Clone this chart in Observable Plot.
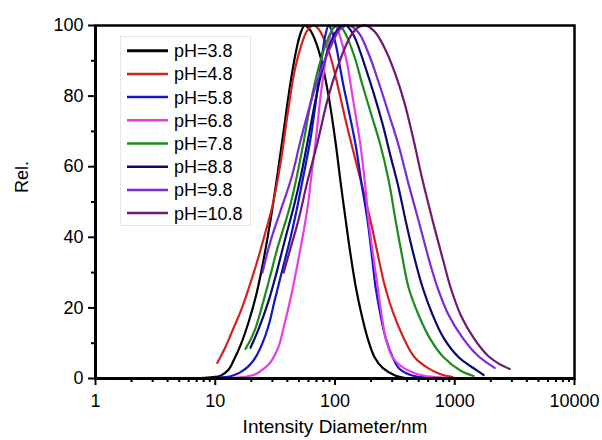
<!DOCTYPE html>
<html>
<head>
<meta charset="utf-8">
<script src="https://cdn.jsdelivr.net/npm/d3@7"></script>
<script src="https://cdn.jsdelivr.net/npm/@observablehq/plot@0.6"></script>
<style>
  body { margin: 0; background: #fff; font-family: "Liberation Sans", Arial, sans-serif; }
  #wrap { position: relative; width: 602px; height: 440px; background: #fff; }
  #legend { position: absolute; left: 0; top: 0; pointer-events: none; }
</style>
</head>
<body>
<div id="wrap"></div>
<script>
// ---- series names and colours ----
const seriesNames = ["pH=3.8", "pH=4.8", "pH=5.8", "pH=6.8", "pH=7.8", "pH=8.8", "pH=9.8", "pH=10.8"];
const seriesColors = ["#000000", "#d42020", "#1414c8", "#e63ce6", "#1c8a1c", "#0a0a6e", "#7a2ad8", "#6e1a6e"];

// ---- data: size (nm) and relative intensity ----
const size38 = [7.54, 9.49, 11.1, 12.9, 14.2, 16.3, 19.0, 22.1, 24.8, 29.0, 32.5, 36.5, 42.6, 47.8, 51.6, 55.7, 60.1, 65.0, 75.8, 88.4, 101, 111, 123, 135, 149, 167, 187, 214, 250, 321, 428];
const rel38  = [0.1, 0.4, 0.8, 2.5, 5, 9.5, 16, 24, 32, 45, 56, 68, 84, 93.5, 97.8, 100, 99.3, 97.5, 91, 80, 67, 56, 44.7, 35, 26, 18, 11.5, 6, 3, 0.8, 0];

const size48 = [10.4, 12.2, 13.9, 16.3, 19.0, 22.1, 25.8, 30.1, 35.1, 40.2, 45.9, 53.6, 59.0, 66.2, 72.9, 78.8, 91.9, 107, 123, 143, 170, 198, 240, 255, 303, 374, 462, 594, 762, 960];
const rel48  = [4.4, 9, 13.5, 19, 25.5, 32.5, 40.5, 49, 61, 75, 87, 95.5, 98.7, 100, 99, 97, 91, 82, 73, 64, 54, 44.7, 31.5, 27.5, 19, 11.5, 6, 3, 1.2, 0.4];

const size58 = [10.4, 12.2, 13.9, 16.3, 19.0, 21.7, 24.8, 27.9, 31.3, 36.5, 42.6, 48.7, 55.7, 62.5, 70.2, 78.8, 83.4, 88.4, 94.0, 101, 116, 130, 149, 167, 187, 206, 218, 240, 265, 303, 340, 428, 571];
const rel58  = [0.2, 0.4, 0.8, 1.8, 3.5, 6, 10, 15, 22, 31, 40, 49, 59, 68, 80, 92.5, 97.5, 100, 98.6, 95, 84, 76, 66, 55, 44.7, 33, 26, 18, 11.5, 6, 3, 1, 0.3];

const size68 = [14.2, 17.9, 21.7, 24.8, 27.9, 30.1, 33.8, 37.2, 43.4, 48.7, 53.6, 59.0, 63.8, 68.9, 75.8, 85.1, 91.9, 99, 105, 111, 125, 140, 154, 164, 177, 191, 206, 227, 245, 265, 303, 374, 519, 762, 1018];
const rel68  = [0.2, 0.5, 1.2, 2.5, 4, 5.5, 9, 14.3, 24, 32.5, 40, 48.4, 58, 67, 80, 92, 97.5, 100, 99, 96.5, 90, 80, 71.5, 65.5, 56, 44.7, 36, 26, 18, 11.5, 6, 3, 1, 0.3, 0];

const size78 = [17.9, 19.7, 21.7, 25.3, 29.0, 33.1, 41.8, 47.8, 54.7, 62.5, 72.9, 86.7, 97.3, 107, 116, 125, 146, 170, 198, 240, 281, 321, 360, 412, 499, 629, 807, 1120, 1438];
const rel78  = [8.4, 11, 14.3, 22, 29.5, 37, 48.4, 57, 67, 78, 88, 96, 99.3, 100, 99, 97, 91, 83, 75.5, 66, 56, 44.7, 35.5, 25.7, 18, 11, 6, 2.2, 0.7];

const size88 = [19.7, 23.0, 27.9, 32.5, 38.7, 45.9, 51.6, 59.0, 68.9, 80.3, 97.3, 110, 123, 135, 149, 180, 214, 250, 291, 340, 389, 454, 540, 654, 807, 1079, 1496, 1743];
const rel88  = [8.7, 14, 22, 30, 40, 49.5, 57, 67, 79, 89, 97, 99.5, 100, 98.7, 96, 88, 80, 72, 63, 54, 44.7, 35, 25.7, 18, 11.5, 6, 2.5, 1];

const size98 = [24.8, 29.0, 35.1, 43.4, 51.6, 62.5, 75.8, 91.9, 111, 130, 157, 191, 231, 281, 340, 412, 499, 629, 719, 889, 1164, 1553, 2155];
const rel98  = [30, 39, 47.5, 57, 67.4, 78, 87, 94, 99, 100, 98, 92, 84, 75, 66, 55, 44.7, 32, 25.7, 18, 11.5, 6.5, 3];

const size108 = [37.2, 42.6, 49.6, 59.0, 71.6, 86.7, 107, 135, 157, 180, 198, 218, 265, 321, 381, 454, 540, 654, 807, 925, 1120, 1438, 1884, 2328, 2877];
const rel108  = [30, 37, 45, 56, 67, 79, 89, 97, 99.5, 100, 99.3, 98, 93, 86, 78, 67.4, 56, 44.7, 33, 25.7, 18, 11.5, 6.5, 4.2, 2.7];

// ---- axis ticks ----
const xMajorTicks = [1, 10, 100, 1000, 10000];
const xMinorMultipliers = [2, 3, 4, 5, 6, 7, 8, 9];
const yMajorTicks = [0, 20, 40, 60, 80, 100];
const yMinorTicks = [10, 30, 50, 70, 90];

const xLabel = "Intensity Diameter/nm";
const yLabel = "Rel.";

// ---- build table ----
const sizes = [size38, size48, size58, size68, size78, size88, size98, size108];
const rels  = [rel38, rel48, rel58, rel68, rel78, rel88, rel98, rel108];
const rows = [];
seriesNames.forEach((name, i) => {
  sizes[i].forEach((s, j) => rows.push({series: name, size: s, rel: rels[i][j]}));
});
const xMinorTicks = [];
xMajorTicks.slice(0, -1).forEach(d => xMinorMultipliers.forEach(m => xMinorTicks.push(d * m)));

const font = "'Liberation Sans', Arial, sans-serif";

const chart = Plot.plot({
  width: 602,
  height: 440,
  marginLeft: 95,
  marginRight: 28,
  marginTop: 25,
  marginBottom: 62,
  style: {fontFamily: font, fontSize: "18px", color: "#000", background: "#fff", overflow: "visible"},
  x: {type: "log", domain: [1, 10000]},
  y: {domain: [0, 100]},
  color: {domain: seriesNames, range: seriesColors},
  marks: [
    Plot.line(rows, {x: "size", y: "rel", z: "series", stroke: "series", strokeWidth: 2.2, curve: "catmull-rom"}),
    Plot.axisX({ticks: xMinorTicks, tickSize: 4, strokeWidth: 2, text: null, label: null}),
    Plot.axisX({ticks: xMajorTicks, tickSize: 7, tickPadding: 9, strokeWidth: 2, tickFormat: d => String(d), label: null, fontSize: 18}),
    Plot.axisY({ticks: yMinorTicks, tickSize: 4, strokeWidth: 2, text: null, label: null}),
    Plot.axisY({ticks: yMajorTicks, tickSize: 7, tickPadding: 5, strokeWidth: 2, tickFormat: d => String(d), label: null, fontSize: 18}),
    Plot.frame({stroke: "#000", strokeWidth: 2.5}),
    Plot.ruleX([1], {stroke: "#000", strokeWidth: 3}),
    Plot.ruleY([0], {stroke: "#000", strokeWidth: 3}),
    Plot.text([xLabel], {frameAnchor: "bottom", dy: 48, fontSize: 19, lineAnchor: "middle"}),
    Plot.text([yLabel], {frameAnchor: "left", dx: -73, dy: -9, rotate: -90, fontSize: 18, lineAnchor: "middle"})
  ]
});

const wrap = document.getElementById("wrap");
wrap.appendChild(chart);

// ---- legend (inside the plot, top-left) ----
const leg = d3.select(wrap).append("svg")
  .attr("id", "legend")
  .attr("width", 602).attr("height", 440);
leg.append("rect")
  .attr("x", 120.5).attr("y", 36.5).attr("width", 130).attr("height", 189)
  .attr("fill", "none").attr("stroke", "#e6e6e6").attr("stroke-width", 1);
seriesNames.forEach((name, i) => {
  const cy = 50.7 + i * 23.2;
  leg.append("line")
    .attr("x1", 127).attr("x2", 168).attr("y1", cy).attr("y2", cy)
    .attr("stroke", seriesColors[i]).attr("stroke-width", i === 0 ? 3 : 2.5);
  leg.append("text")
    .attr("x", 174).attr("y", cy).attr("dy", "0.36em")
    .attr("font-family", font).attr("font-size", 18).attr("fill", "#000")
    .text(name);
});
</script>
</body>
</html>
